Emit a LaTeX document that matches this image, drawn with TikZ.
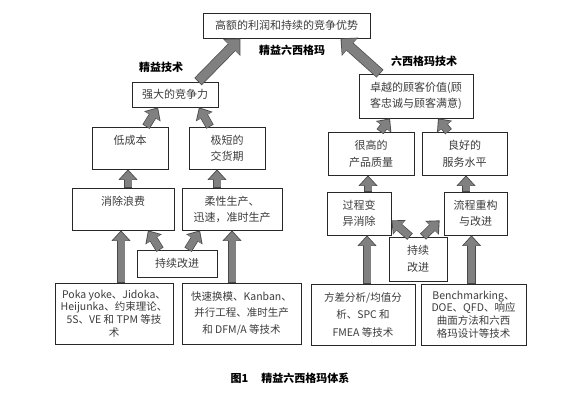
\documentclass[tikz,border=0pt]{standalone}
\usepackage{fontspec}
\setmainfont{Noto Sans CJK SC}
\usetikzlibrary{arrows.meta,calc}
\definecolor{BoxText}{RGB}{60,60,60}
\definecolor{BoxEdge}{RGB}{40,40,40}
\definecolor{ArrowGray}{RGB}{128,128,128}
\definecolor{ArrowEdge}{RGB}{72,72,72}
\tikzset{
  blk/.style={draw=BoxEdge,line width=0.7pt,fill=white,inner sep=1pt,align=center,text=BoxText,font=\fontsize{11}{16}\selectfont},
  tight/.style={font=\fontsize{10.5}{12.7}\selectfont},
  lbl/.style={font=\fontsize{11}{13}\selectfont\bfseries},
  fat/.style={-{Triangle[length=9pt,width=16pt]},line width=7pt,draw=ArrowGray,shorten >=1.3pt,shorten <=0.7pt,
    preaction={draw=ArrowEdge,line width=8.4pt,shorten >=0pt,shorten <=0pt,-{Triangle[length=10.6pt,width=18.6pt]}}},
  fatter/.style={-{Triangle[length=11pt,width=21pt]},line width=9pt,draw=ArrowGray,shorten >=1.3pt,shorten <=0.7pt,
    preaction={draw=ArrowEdge,line width=10.4pt,shorten >=0pt,shorten <=0pt,-{Triangle[length=12.6pt,width=23.6pt]}}}
}

\begin{document}
\begin{tikzpicture}[x=1pt,y=-1pt]
\useasboundingbox[fill=white] (0,0) rectangle (575,400);

% top level
\node[blk,minimum width=167pt,minimum height=25pt] (goal) at (286.5,25.5) {高额的利润和持续的竞争优势};
\node[lbl] (mainlbl) at (292,50) {精益六西格玛};
\node[lbl] (leanlbl) at (161,67) {精益技术};
\node[lbl] (sixlbl) at (424,61) {六西格玛技术};

\node[blk,minimum width=86pt,minimum height=25pt] (strong) at (175,94.5) {强大的竞争力};
\node[blk,minimum width=114pt,minimum height=44pt] (value) at (416,96) {卓越的顾客价值(顾\\客忠诚与顾客满意)};

% second level
\node[blk,minimum width=76pt,minimum height=42pt] (lowcost) at (130,148) {低成本\\\mbox{}};
\node[blk,minimum width=76pt,minimum height=42pt] (quick) at (227,148) {极短的\\交货期};
\node[blk,minimum width=86pt,minimum height=43pt,font=\fontsize{11}{17}\selectfont] (quality) at (371,153.5) {很高的\\产品质量};
\node[blk,minimum width=85pt,minimum height=43pt,font=\fontsize{11}{17}\selectfont] (service) at (464.5,153.5) {良好的\\服务水平};

% third level
\node[blk,minimum width=102pt,minimum height=42pt] (waste) at (123,209) {消除浪费\\\mbox{}};
\node[blk,minimum width=100pt,minimum height=42pt] (flex) at (232,209) {柔性生产、\\迅速，准时生产};
\node[blk,minimum width=64pt,minimum height=43pt] (variation) at (359,213.5) {过程变\\异消除};
\node[blk,minimum width=63pt,minimum height=43pt] (reeng) at (475.5,213.5) {流程重构\\与改进};

\node[blk,minimum width=80pt,minimum height=27pt] (ciL) at (177,263.5) {持续改进};
\node[blk,minimum width=58pt,minimum height=44pt,font=\fontsize{11}{17}\selectfont] (ciR) at (418,259) {持续\\改进};

% techniques
\node[blk,tight,minimum width=118pt,minimum height=61pt] (b1) at (114,313.5) {Poka yoke、Jidoka、\\Heijunka、约束理论、\\5S、VE 和 TPM 等技\\术};
\node[blk,minimum width=119pt,minimum height=61pt,font=\fontsize{10.5}{16.5}\selectfont] (b2) at (241.5,313.5) {快速换模、Kanban、\\并行工程、准时生产\\和 DFM/A 等技术};
\node[blk,minimum width=104pt,minimum height=61pt,font=\fontsize{10.5}{17.5}\selectfont] (b3) at (363,314.5) {方差分析/均值分\\析、SPC 和\\FMEA 等技术};
\node[blk,tight,minimum width=105pt,minimum height=61pt] (b4) at (473.5,314.5) {Benchmarking、\\DOE、QFD、响应\\曲面方法和六西\\格玛设计等技术};

\node[lbl] (cap) at (290,378) {图1\hspace{1.2em}精益六西格玛体系};

% arrows
\draw[fatter]([xshift=23pt]strong.north)--([xshift=-46pt]goal.south);
\draw[fatter]([xshift=-36pt]value.north)--([xshift=54pt]goal.south);
\draw[fat]([xshift=16pt]lowcost.north)--([xshift=-17pt]strong.south);\draw[fat]([xshift=-17pt]quick.north)--([xshift=24pt]strong.south);
\draw[fat]([xshift=9pt]quality.north)--([xshift=-26pt]value.south);\draw[fat]([xshift=-16pt]service.north)--([xshift=22pt]value.south);
\draw[fat]([xshift=5pt]waste.north)--([xshift=5pt]waste.north|-lowcost.south);\draw[fat]([xshift=-15pt]flex.north)--([xshift=-15pt]flex.north|-quick.south);
\draw[fat]([xshift=9pt]variation.north)--([xshift=9pt]variation.north|-quality.south);\draw[fat]([xshift=-9.5pt]reeng.north)--([xshift=-9.5pt]reeng.north|-service.south);
\draw[fat]([xshift=-17pt]ciL.north)--([xshift=25pt]waste.south);\draw[fat]([xshift=11pt]ciL.north)--([xshift=-32pt]flex.south);
\draw[fat]([xshift=-8pt]ciR.north)--([yshift=15pt]variation.south east);\draw[fat]([xshift=5pt]ciR.north)--([xshift=-4pt,yshift=15pt]reeng.south west);
\draw[fat]([xshift=7pt]b1.north)--([xshift=7pt]b1.north|-waste.south);\draw[fat](flex.south|-b2.north)--(flex.south);
\draw[fat]([xshift=4pt]b3.north)--([xshift=4pt]b3.north|-variation.south);\draw[fat]([xshift=-2pt]b4.north)--([xshift=-2pt]b4.north|-reeng.south);
\end{tikzpicture}
\end{document}
